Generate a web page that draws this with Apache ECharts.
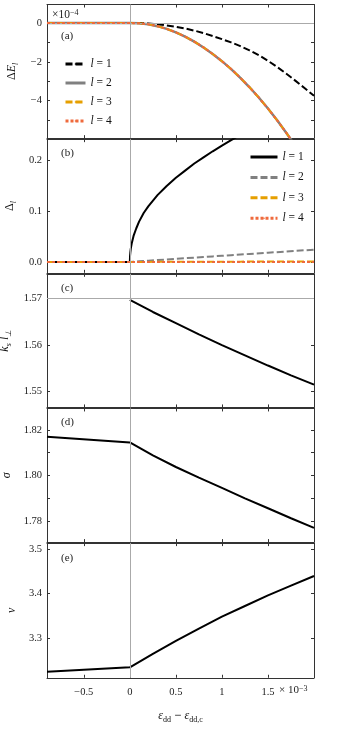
<!DOCTYPE html>
<html><head><meta charset="utf-8">
<script src="https://cdn.jsdelivr.net/npm/echarts@6/dist/echarts.min.js"></script>
<style>html,body{margin:0;padding:0;background:#fff}#c{width:339px;height:736px}</style>
</head><body><div id="c"></div>
<script>
// ---- data (x in units of 1e-3) ----
const xTicks = [-0.5, 0, 0.5, 1, 1.5];
const xTickLabels = ['−0.5', '0', '0.5', '1', '1.5'];

// panel (a): ΔE_l (×1e-4)
const xsA = [-0.9, 0, 0.1, 0.2, 0.3, 0.4, 0.5, 0.6, 0.7, 0.8, 0.9, 1.0, 1.1, 1.2, 1.3, 1.4, 1.5, 1.6, 1.7, 1.8, 1.9, 2.0];
const dE1 = [0, 0, 0, -0.02, -0.06, -0.12, -0.19, -0.28, -0.39, -0.52, -0.67, -0.83, -1.0, -1.19, -1.41, -1.66, -1.95, -2.27, -2.62, -2.99, -3.37, -3.76];
const dE234 = [0, 0, -0.01, -0.06, -0.16, -0.3, -0.48, -0.7, -0.96, -1.26, -1.6, -1.97, -2.38, -2.83, -3.32, -3.85, -4.42, -5.03, -5.68, -6.37, -7.1, -7.9];

// panel (b): Δ_l
const xsB = [-0.9, 0, 0.002, 0.005, 0.01, 0.02, 0.04, 0.07, 0.1, 0.15, 0.2, 0.3, 0.4, 0.5, 0.6, 0.7, 0.8, 0.9, 1.0, 1.1, 1.2, 1.3, 1.5, 1.7, 2.0];
const gap1 = [0, 0, 0.012, 0.018, 0.026, 0.036, 0.051, 0.066, 0.079, 0.096, 0.109, 0.131, 0.149, 0.165, 0.179, 0.193, 0.205, 0.217, 0.228, 0.239, 0.249, 0.259, 0.278, 0.296, 0.32];
const gap2 = [0, 0, 0.00002, 0.00006, 0.00012, 0.00024, 0.0005, 0.0008, 0.0012, 0.0018, 0.0024, 0.0036, 0.0048, 0.006, 0.0072, 0.0084, 0.0096, 0.0108, 0.012, 0.0132, 0.0144, 0.0156, 0.018, 0.0204, 0.024];
const gap3 = [0, 0, 0, 0, 0, 0, 0, 0, 0, 0, 0, 0.0001, 0.0001, 0.0002, 0.0002, 0.0003, 0.0003, 0.0004, 0.0004, 0.0005, 0.0005, 0.0006, 0.0007, 0.0008, 0.0009];
const gap4 = [0, 0, 0, 0, 0, 0, 0, 0, 0, 0, 0, 0, 0, 0, 0, 0, 0, 0, 0, 0, 0, 0, 0, 0, 0];

// panel (c): k_s l_perp
const xsC = [0, 0.25, 0.5, 0.75, 1.0, 1.25, 1.5, 1.75, 2.0];
const kl = [1.5697, 1.5671, 1.5647, 1.5623, 1.5600, 1.5578, 1.5556, 1.5535, 1.5515];
const klRef = 1.5708;

// panel (d): σ
const xsD = [-0.9, 0, 0.25, 0.5, 0.75, 1.0, 1.25, 1.5, 1.75, 2.0];
const sigma = [1.8170, 1.8145, 1.8088, 1.8037, 1.7990, 1.7945, 1.7899, 1.7855, 1.7811, 1.7769];

// panel (e): ν
const xsE = [-0.9, 0, 0.25, 0.5, 0.75, 1.0, 1.25, 1.5, 1.75, 2.0];
const nu = [3.2234, 3.2334, 3.264, 3.293, 3.321, 3.348, 3.372, 3.396, 3.418, 3.440];

// y-axis ticks / labels
const yTicksA = [-5, -4, -3, -2, -1, 0];   const yLabelsA = [-4, -2, 0];
const yTicksB = [0, 0.1, 0.2];             const yLabelsB = [0, 0.1, 0.2];
const yTicksC = [1.55, 1.56, 1.57];        const yLabelsC = [1.55, 1.56, 1.57];
const yTicksD = [1.78, 1.79, 1.80, 1.81, 1.82]; const yLabelsD = [1.78, 1.80, 1.82];
const yTicksE = [3.3, 3.4, 3.5];           const yLabelsE = [3.3, 3.4, 3.5];

// ---- chart ----
const FONT = 'Liberation Serif';
const pair = (xs, ys) => xs.map((x, i) => [x, ys[i]]);
const minus = s => s.replace('-', '−');

const panels = [
  {min: -5.95, max: 0.96, ticks: yTicksA, labels: yLabelsA, fmt: v => minus(String(Math.round(v))),
   name: '{u|Δ}{i|E}{s|l}', refY: 0, tag: '(a)', tagY: 37.7},
  {min: -0.0214, max: 0.2408, ticks: yTicksB, labels: yLabelsB, fmt: v => v.toFixed(1),
   name: '{u|Δ}{s|l}', refY: null, tag: '(b)', tagY: 155},
  {min: 1.5466, max: 1.5753, ticks: yTicksC, labels: yLabelsC, fmt: v => v.toFixed(2),
   name: '{i|k}{s|s} {i|l}{s|⊥}', refY: klRef, tag: '(c)', tagY: 289.5},
  {min: 1.7706, max: 1.8295, ticks: yTicksD, labels: yLabelsD, fmt: v => v.toFixed(2),
   name: '{i|σ}', refY: null, tag: '(d)', tagY: 424},
  {min: 3.2098, max: 3.5143, ticks: yTicksE, labels: yLabelsE, fmt: v => v.toFixed(1),
   name: '{i|ν}', refY: null, tag: '(e)', tagY: 560}
];

const GL = 47, GR = 25, T0 = 4.5, H = 134.65;
const AX = '#333';
const richName = {
  u: {fontFamily: FONT, fontSize: 12, color: '#111', lineHeight: 16},
  i: {fontFamily: FONT, fontSize: 12, fontStyle: 'italic', color: '#111', lineHeight: 16},
  s: {fontFamily: FONT, fontSize: 8, fontStyle: 'italic', color: '#111', lineHeight: 10, verticalAlign: 'bottom'},
  r: {fontFamily: FONT, fontSize: 8, color: '#111', lineHeight: 10, verticalAlign: 'bottom'}
};

const grid = [], xAxis = [], yAxis = [], series = [], graphic = [];
panels.forEach((p, i) => {
  const last = i === panels.length - 1;
  grid.push({left: GL, right: GR, top: T0 + H * i, height: last ? H : H - 1, containLabel: false, outerBoundsMode: 'none'});
  const xBase = {gridIndex: i, type: 'value', min: -0.9, max: 2.0, splitLine: {show: false},
    axisLine: {show: true, onZero: false, lineStyle: {color: AX, width: 1}},
    axisTick: {show: true, inside: true, length: 3, customValues: xTicks, lineStyle: {color: AX}}};
  xAxis.push(Object.assign({}, xBase, {position: 'bottom',
    axisLabel: {show: last, customValues: xTicks, margin: 9, fontFamily: FONT, fontSize: 10.5, color: '#222',
      formatter: v => xTickLabels[xTicks.indexOf(v)] ?? ''},
    name: last ? '{i|ε}{r|dd} − {i|ε}{r|dd,c}' : '', nameLocation: 'middle', nameGap: 30,
    nameTextStyle: {rich: richName}}));
  xAxis.push(Object.assign({}, xBase, {position: 'top', axisLabel: {show: false}}));
  const yBase = {gridIndex: i, type: 'value', min: p.min, max: p.max, splitLine: {show: false},
    axisLine: {show: true, onZero: false, lineStyle: {color: AX, width: 1}},
    axisTick: {show: true, inside: true, length: 3, customValues: p.ticks, lineStyle: {color: AX}}};
  yAxis.push(Object.assign({}, yBase, {position: 'left',
    axisLabel: {customValues: p.labels, margin: 5, fontFamily: FONT, fontSize: 10.5, color: '#222', formatter: p.fmt},
    name: p.name, nameLocation: 'middle', nameGap: 25, nameRotate: 90, nameTextStyle: {rich: richName}}));
  yAxis.push(Object.assign({}, yBase, {position: 'right', axisLabel: {show: false}}));

  const mdata = [{xAxis: 0}];
  if (p.refY !== null) mdata.push({yAxis: p.refY});
  series.push({type: 'line', xAxisIndex: 2 * i, yAxisIndex: 2 * i, data: [], z: 1, silent: true,
    markLine: {silent: true, symbol: ['none', 'none'], label: {show: false}, animation: false,
      lineStyle: {color: '#aaaaaa', width: 1, type: 'solid'}, emphasis: {disabled: true}, data: mdata}});

  graphic.push({type: 'text', left: 61, top: p.tagY - 7,
    style: {text: p.tag, font: '11px "Liberation Serif"', fill: '#222'}});
});

const line = (name, gi, data, color, width, type, z) => ({
  name, type: 'line', xAxisIndex: 2 * gi, yAxisIndex: 2 * gi, data, showSymbol: false, symbol: 'none',
  clip: true, z, lineStyle: {color, width, type}, itemStyle: {color}, animation: false});

const C_BLACK = '#000000', C_GRAY = '#808080', C_OR = '#e69f00', C_RED = '#ef6a3c';
series.push(line('a1', 0, pair(xsA, dE1), C_BLACK, 2, [7, 3], 3));
series.push(line('a2', 0, pair(xsA, dE234), C_GRAY, 2.5, 'solid', 2));
series.push(line('a3', 0, pair(xsA, dE234), C_OR, 2, [7, 3], 4));
series.push(line('a4', 0, pair(xsA, dE234), C_RED, 2, [3, 2], 5));
series.push(line('b1', 1, pair(xsB, gap1), C_BLACK, 2, 'solid', 2));
series.push(line('b2', 1, pair(xsB, gap2), C_GRAY, 2, [7, 3], 3));
series.push(line('b3', 1, pair(xsB, gap3), C_OR, 2, [7, 3], 4));
series.push(line('b4', 1, pair(xsB, gap4), C_RED, 2, [3, 2], 5));
series.push(line('c1', 2, pair(xsC, kl), C_BLACK, 2, 'solid', 3));
series.push(line('d1', 3, pair(xsD, sigma), C_BLACK, 2, 'solid', 3));
series.push(line('e1', 4, pair(xsE, nu), C_BLACK, 2, 'solid', 3));

const legText = {fontFamily: FONT, fontSize: 11.5, color: '#111',
  rich: {i: {fontFamily: FONT, fontSize: 11.5, fontStyle: 'italic', color: '#111'}}};
const legend = [
  {data: ['a1', 'a2', 'a3', 'a4'], orient: 'vertical', left: 59, top: 53, itemWidth: 20, itemHeight: 2,
   itemGap: 7, selectedMode: false, lineStyle: {width: 3}, formatter: n => '{i|l} = ' + n.slice(1), textStyle: legText},
  {data: ['b1', 'b2', 'b3', 'b4'], orient: 'vertical', left: 244, top: 146, itemWidth: 27, itemHeight: 2,
   itemGap: 8.4, selectedMode: false, lineStyle: {width: 3}, formatter: n => '{i|l} = ' + n.slice(1), textStyle: legText}
];

graphic.push({type: 'text', left: 52, top: 9,
  style: {text: '×10{sup|−4}', font: '11.5px "Liberation Serif"', fill: '#222',
    rich: {sup: {fontSize: 8, fontFamily: FONT, verticalAlign: 'top', fill: '#222'}}}});
graphic.push({type: 'text', left: 279, top: 685,
  style: {text: '× 10{sup|−3}', font: '11px "Liberation Serif"', fill: '#222',
    rich: {sup: {fontSize: 8, fontFamily: FONT, verticalAlign: 'top', fill: '#222'}}}});

const chart = echarts.init(document.getElementById('c'), null, {renderer: 'canvas'});
chart.setOption({animation: false, backgroundColor: '#fff', grid, xAxis, yAxis, series, legend, graphic});
</script></body></html>
